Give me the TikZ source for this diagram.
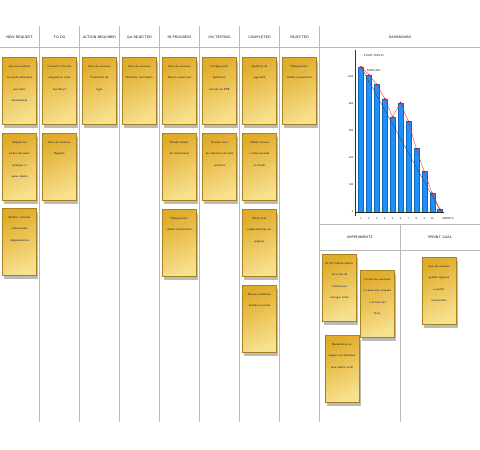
\documentclass[tikz,border=0pt]{standalone}
\usepackage{tikz}
\usetikzlibrary{shadows,positioning,calc}
\definecolor{notedark}{RGB}{224,172,42}
\definecolor{notelight}{RGB}{247,224,142}
\definecolor{notetxt}{RGB}{25,25,60}
\definecolor{barblue}{RGB}{30,144,255}
\definecolor{boardline}{RGB}{185,185,185}
\newcommand\notefont{\fontsize{2.9}{11.5}\selectfont\sffamily}
\newcommand\notetext[1]{\parbox[t][63pt][t]{30pt}{\vspace*{6pt}\centering\notefont #1}}
\tikzset{
  head/.style={font=\fontsize{3.5}{4}\selectfont\sffamily},
  tiny/.style={font=\fontsize{2.6}{3}\selectfont\sffamily, inner sep=0.6pt},
  divider/.style={boardline, line width=0.8pt},
  note/.style={anchor=north, inner sep=2pt, draw=notedark!75!black, line width=0.2pt,
    top color=notedark, bottom color=notelight, shading angle=25, text=notetxt,
    drop shadow={shadow xshift=1.8pt, shadow yshift=-3.5pt, fill=black!60, opacity=.45}},
  bar/.style={fill=barblue, draw=barblue!70!black, line width=0.2pt},
}
\begin{document}
\begin{tikzpicture}[x=1pt, y=-1pt]
  \useasboundingbox[fill=white] (0,0) rectangle (480,450);
  % board grid
  \draw[divider] (0,47) -- (480,47);
  \foreach \x in {39.5,79.5,...,319.5}
    \draw[divider] (\x,26) -- (\x,422);
  \draw[divider] (320,224) -- (480,224);
  \draw[divider] (320,250) -- (480,250);
  \draw[divider] (400,224) -- (400,422);
  % column heads
  \foreach \t [count=\i] in {NEW REQUEST, TO DO, ACTION REQUIRED, QA REJECTED,
      IN PROGRESS, ON TESTING, COMPLETED, REJECTED}
    \node[head] (head\i) at ({19.5+40*(\i-1)},37) {\t};
  \node[head] (dash) at (400,37) {DASHBOARD};
  \node[head] (imped) at (360,237) {IMPEDIMENTS};
  \node[head] (goal) at (440,237) {SPRINT GOAL};

  % sticky notes
  \node[note] (new1) at (19.5,57) {\notetext{Que se muestren\\los posts ordenados\\por fecha\\descendente}};
  \node[note] (new2) at (19.5,133) {\notetext{Adaptar los\\estilos del menú\\principal al\\nuevo diseño}};
  \node[note] (new3) at (19.5,208) {\notetext{Mostrar artículos\\relacionados\\independientes}};
  \node[note] (todo1) at (59.5,57) {\notetext{Convertir artículos\\antiguos en rutas\\Symfony2}};
  \node[note] (todo2) at (59.5,133) {\notetext{Zona de usuarios.\\Registro}};
  \node[note] (act1) at (99.5,57) {\notetext{Zona de usuarios.\\Formulario de\\login}};
  \node[note] (qa1) at (139.5,57) {\notetext{Zona de usuarios.\\Recordar contraseña}};
  \node[note] (prog1) at (179.5,57) {\notetext{Zona de usuarios.\\Nuevo comentario}};
  \node[note] (prog2) at (179.5,133) {\notetext{Diseño listado\\de comentarios}};
  \node[note] (prog3) at (179.5,209) {\notetext{Maquetación\\diseño comentarios}};
  \node[note] (test1) at (219.5,57) {\notetext{Configuración\\Jenkins en\\entorno de PRE}};
  \node[note] (test2) at (219.5,133) {\notetext{Revisar nivel\\de cobertura de tests\\unitarios}};
  \node[note] (comp1) at (259.5,57) {\notetext{Auditoría de\\seguridad}};
  \node[note] (comp2) at (259.5,133) {\notetext{Añadir enlaces\\a redes sociales\\en footer}};
  \node[note] (comp3) at (259.5,209) {\notetext{Menú links\\independientes por\\páginas}};
  \node[note] (comp4) at (259.5,285) {\notetext{Revisar semántica\\headers en posts}};
  \node[note] (rej1) at (299.5,57) {\notetext{Maquetación\\listado comentarios}};
  \node[note] (imp1) at (339.5,254) {\notetext{El PO intenta reducir\\los ciclos de\\calidad para\\entregar antes}};
  \node[note] (imp2) at (377.5,270) {\notetext{La sala de reuniones\\a veces está ocupada\\a la hora del\\Daily}};
  \node[note] (imp3) at (342,335) {\notetext{Necesitamos un\\equipo con Windows\\para probar en IE}};
  \node[note] (goal1) at (439,257) {\notetext{Que los usuarios\\puedan logearse\\y escribir\\comentarios}};

  % burndown chart
  \draw[black!80, line width=0.3pt] (355,50) -- (355,216);
  \foreach \v in {0,200,...,1000}
    \node[tiny, anchor=east] (yl\v) at (354,{212-0.135*\v}) {\v};
  \foreach \v [count=\i] in {1075,1015,945,840,705,810,670,470,300,140,20} {
    \pgfmathsetmacro\bx{361+(\i-1)*7.9}
    \pgfmathsetmacro\by{212-0.135*\v}
    \fill[bar] (\bx-2.5,212) rectangle (\bx+2.5,\by);
    \coordinate (sp\i) at (\bx,\by);
  }
  \draw[black!85, line width=1pt] (355,212.5) -- (444,212.5);
  \foreach \i in {1,...,10}
    \node[tiny] (xl\i) at ({361+(\i-1)*7.9},218.5) {\i};
  \node[tiny] (sprints) at (448,218.5) {SPRINTS};
  \coordinate (fcend) at (441,212);
  \draw[black!70, line width=0.35pt] (sp1) -- (fcend);
  \foreach \i [count=\j from 2] in {1,...,10}
    \draw[red!85, line width=0.35pt] (sp\i) -- (sp\j);
  \foreach \i in {1,...,11}
    \fill[red] (sp\i) circle (1);
  \node[tiny, anchor=west] (storyp) at (363,56) {STORY POINTS};
  \node[tiny, anchor=west] (fcast) at (366,71) {FORECAST};
\end{tikzpicture}
\end{document}
